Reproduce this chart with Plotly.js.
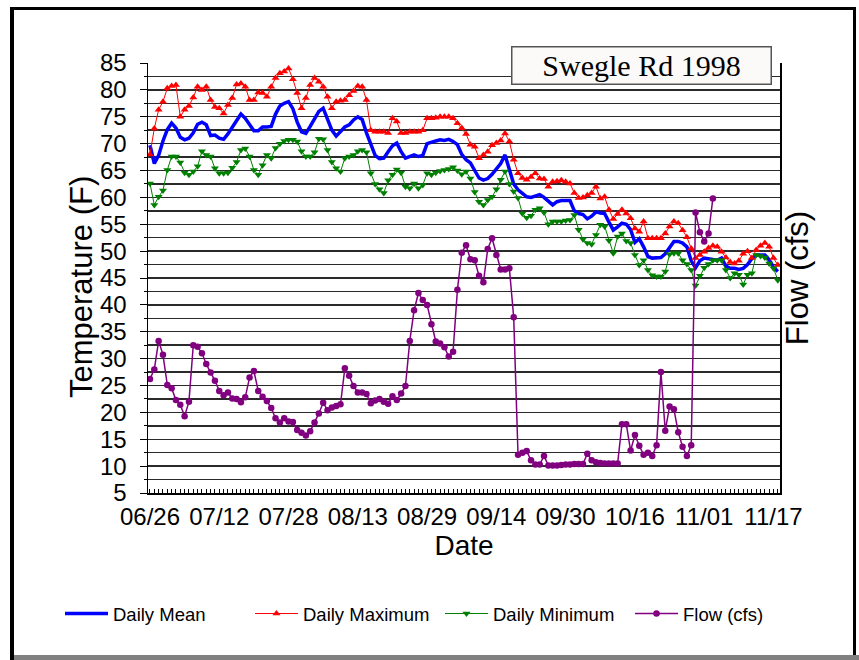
<!DOCTYPE html>
<html><head><meta charset="utf-8">
<script src="https://cdn.plot.ly/plotly-3.0.1.min.js"></script>
<style>html,body{margin:0;padding:0;background:#fff;} #chart{width:859px;height:660px;}</style>
</head><body><div id="chart"></div>
<script>
const startDate = [1998, 5, 26];
const dailyMean = [69.7,66.3,67.8,70.5,72.6,73.8,72.9,71.2,70.7,71.0,
72.0,73.6,74.0,73.5,71.5,71.6,71.0,70.8,71.8,73.0,
74.3,75.5,74.7,73.4,72.4,72.4,73.1,73.1,73.2,75.5,
77.0,77.5,77.8,76.5,74.0,72.2,71.9,73.2,74.7,76.0,
76.6,74.5,72.5,71.4,72.3,73.1,73.5,74.4,75.0,74.5,
72.0,69.8,67.8,67.2,67.3,68.5,69.6,70.1,68.5,67.3,
67.6,67.9,67.6,67.8,70.0,70.3,70.5,70.7,70.6,70.8,
70.4,69.8,68.0,67.0,66.4,65.0,63.6,63.2,63.5,64.3,
65.2,66.3,67.9,65.0,62.5,61.4,60.8,60.1,60.0,60.2,
60.5,60.0,59.2,58.6,59.2,59.4,59.4,59.4,57.5,57.0,
56.8,56.0,56.5,57.3,57.1,57.0,55.4,53.9,54.5,55.2,
55.0,54.0,51.6,52.3,50.8,49.0,48.7,48.7,48.8,49.5,
50.8,51.8,51.8,51.5,50.8,48.2,46.9,48.2,48.7,48.6,
48.4,48.3,48.7,47.2,46.8,46.8,46.6,46.8,47.5,48.6,
49.3,49.3,49.3,48.4,47.0,46.2];
const dailyMax = [68.0,72.8,76.3,77.8,80.3,80.7,80.9,75.0,76.3,77.0,
78.6,80.6,80.0,80.6,78.1,76.8,76.6,75.6,77.2,78.5,
81.0,81.2,80.6,78.1,78.1,79.5,79.4,78.7,80.6,82.2,
83.1,83.4,84.0,82.0,79.4,76.6,78.5,80.9,82.2,81.5,
80.6,78.7,76.6,77.8,78.0,78.1,79.0,79.8,80.7,80.6,
78.1,72.5,72.2,72.2,72.2,72.0,74.7,74.1,72.0,72.0,
72.2,72.2,72.2,72.5,74.7,74.7,74.8,75.0,75.0,75.0,
74.7,73.8,72.9,71.8,69.8,69.4,67.3,67.9,68.5,69.7,
70.1,70.6,71.9,70.4,67.0,64.5,63.6,63.3,63.8,64.5,
63.5,63.4,62.0,62.9,63.0,63.2,62.9,62.6,60.8,59.9,
60.0,60.4,60.8,62.0,59.8,60.1,57.7,56.0,56.9,57.7,
57.0,56.1,54.2,53.6,55.5,52.4,52.4,52.4,52.4,53.3,
54.6,55.5,55.2,53.9,52.6,50.5,48.7,49.3,49.9,50.6,
51.0,50.8,49.9,48.8,48.0,47.7,48.2,49.5,50.0,48.7,
50.2,51.0,51.5,50.8,48.7,47.4];
const dailyMin = [62.6,58.6,60.1,61.3,65.1,67.6,67.6,66.5,64.6,64.2,
64.8,65.8,68.6,67.9,67.6,65.4,64.5,64.5,64.6,65.5,
66.6,68.8,69.1,67.6,65.1,64.2,66.0,67.9,67.3,69.2,
70.0,70.5,70.7,70.7,70.4,68.6,67.6,67.6,68.4,70.9,
70.8,68.8,66.6,65.4,64.8,67.3,67.6,67.9,68.6,68.8,
68.4,64.5,62.5,61.5,60.8,63.2,64.2,65.2,64.6,62.0,
61.7,62.6,61.7,62.3,64.5,64.2,64.6,64.9,65.1,65.3,
65.6,65.0,64.3,64.8,63.5,61.0,59.2,58.6,59.5,60.1,
61.5,63.3,64.8,62.5,61.1,59.9,57.0,56.2,56.6,57.7,
58.0,57.2,55.0,55.5,55.5,55.5,55.7,55.8,56.7,54.0,
52.2,51.5,51.3,53.0,54.9,54.6,52.0,49.6,52.7,53.3,
51.9,51.5,49.3,47.4,48.3,46.5,45.5,45.3,45.3,46.2,
49.4,49.6,49.6,48.3,47.6,46.5,43.6,45.4,46.9,47.6,
48.3,48.3,48.3,46.5,45.0,45.9,45.6,43.8,45.6,45.9,
49.3,49.1,48.8,47.7,46.8,44.6];
const flowCfs = [26.2,28.0,33.3,30.7,25.1,24.5,22.3,21.4,19.3,22.0,
32.5,32.2,31.0,29.0,27.4,25.9,24.0,23.2,23.7,22.6,
22.5,21.9,22.8,26.5,27.7,24.0,22.9,22.1,20.8,18.9,
18.1,18.9,18.3,18.2,16.7,16.2,15.7,16.5,18.1,19.8,
21.8,20.4,20.9,21.2,21.5,28.2,26.8,24.9,23.7,23.7,
23.4,21.7,22.2,22.5,22.0,21.6,23.0,22.3,23.5,24.9,
33.3,39.0,42.2,40.9,40.0,36.4,33.2,32.8,32.1,30.4,
31.3,42.8,49.7,51.1,48.5,48.3,45.4,44.2,50.4,52.4,
49.3,46.6,46.6,46.8,37.7,12.1,12.5,12.8,11.1,10.3,
10.3,11.9,10.1,10.1,10.1,10.2,10.3,10.3,10.4,10.4,
10.4,12.3,11.1,10.7,10.6,10.5,10.5,10.5,10.5,17.8,
17.8,12.9,15.8,13.8,12.1,12.5,11.9,13.9,27.5,16.6,
21.1,20.6,16.3,13.6,11.9,13.9,57.2,53.5,51.8,53.3,
59.8];
const tickDates = ['1998-06-26','1998-07-12','1998-07-28','1998-08-13','1998-08-29','1998-09-14','1998-09-30','1998-10-16','1998-11-01','1998-11-17'];
const tickLabels = ['06/26','07/12','07/28','08/13','08/29','09/14','09/30','10/16','11/01','11/17'];
const seriesNames = ['Daily Mean','Daily Maximum','Daily Minimum','Flow (cfs)'];

function dayList(n){
  const out=[];
  for(let i=0;i<n;i++){
    const d=new Date(Date.UTC(startDate[0],startDate[1],startDate[2]+i));
    out.push(d.toISOString().slice(0,10));
  }
  return out;
}
const dates = dayList(dailyMean.length);
const flowDates = dayList(flowCfs.length);

// layout geometry (pixels)
const L=148, R=780, T=63, B=493, W=859, H=660;
const px2x = p => (p-L)/(R-L);
const py2y = p => (B-p)/(B-T);

const sans = 'Liberation Sans, Arial, sans-serif';
const gridC = '#2a2a2a';

const traces = [
  {x:dates, y:dailyMean, name:seriesNames[0], type:'scatter', mode:'lines',
   line:{color:'#0000ff', width:3.5}},
  {x:dates, y:dailyMax, name:seriesNames[1], type:'scatter', mode:'lines+markers',
   line:{color:'#ff0000', width:1}, marker:{symbol:'triangle-up', size:7, color:'#ff0000'}},
  {x:dates, y:dailyMin, name:seriesNames[2], type:'scatter', mode:'lines+markers',
   line:{color:'#008000', width:1}, marker:{symbol:'triangle-down', size:7, color:'#008000'}},
  {x:flowDates, y:flowCfs, name:seriesNames[3], type:'scatter', mode:'lines+markers', yaxis:'y2',
   line:{color:'#800080', width:1.5}, marker:{symbol:'circle', size:6.5, color:'#800080'}}
];

const shapes = [
  // outer frame
  {type:'rect', xref:'paper', yref:'paper', x0:px2x(10), x1:px2x(14), y0:py2y(660), y1:py2y(7), fillcolor:'#000', line:{width:0}},
  {type:'rect', xref:'paper', yref:'paper', x0:px2x(10), x1:px2x(856), y0:py2y(10), y1:py2y(7), fillcolor:'#000', line:{width:0}},
  {type:'rect', xref:'paper', yref:'paper', x0:px2x(853), x1:px2x(856), y0:py2y(655), y1:py2y(7), fillcolor:'#000', line:{width:0}},
  {type:'rect', xref:'paper', yref:'paper', x0:px2x(14), x1:px2x(859), y0:py2y(660), y1:py2y(655), fillcolor:'#808080', line:{width:0}}
];

const layout = {
  width:W, height:H,
  margin:{l:L, r:W-R, t:T, b:H-B, pad:0},
  paper_bgcolor:'#fff', plot_bgcolor:'#fff',
  showlegend:true,
  font:{family:sans, color:'#000'},
  xaxis:{
    type:'date', range:['1998-06-25 13:00','1998-11-18 12:00'],
    tickmode:'array', tickvals:tickDates, ticktext:tickLabels,
    ticks:'inside', ticklen:4, tickcolor:'#000', tickwidth:1,
    minor:{tickmode:'linear', tick0:'1998-06-26', dtick:86400000, ticks:'inside', ticklen:4, tickcolor:'#000', tickwidth:1, showgrid:false},
    showgrid:false, zeroline:false, showline:true, linecolor:'#000', linewidth:1.5,
    tickfont:{family:sans, size:24, color:'#000'}, ticklabelstandoff:2,
    title:{text:'Date', font:{family:sans, size:28, color:'#000'}, standoff:3}
  },
  yaxis:{
    range:[5,85], tickmode:'linear', tick0:5, dtick:5,
    ticks:'outside', ticklen:7, tickcolor:'#000', tickwidth:1,
    showgrid:true, gridcolor:gridC, gridwidth:1.4,
    minor:{tickmode:'linear', tick0:5, dtick:2.5, ticks:'outside', ticklen:3, tickcolor:'#000', showgrid:true, gridcolor:gridC, gridwidth:1.4},
    zeroline:false, showline:true, linecolor:'#000', linewidth:1.5, mirror:true,
    tickfont:{family:sans, size:24, color:'#000'}, ticklabelstandoff:8
  },
  yaxis2:{
    overlaying:'y', side:'right', range:[5,85], showgrid:false, zeroline:false,
    showticklabels:false, ticks:'', showline:true, linecolor:'#000', linewidth:1.5,
    title:{text:'Flow (cfs)', font:{family:sans, size:31, color:'#000'}, standoff:6}
  },
  legend:{orientation:'h', x:px2x(60), xanchor:'left', y:py2y(614), yanchor:'middle',
    font:{family:sans, size:18.5, color:'#000'}, entrywidth:132, entrywidthmode:'pixels',
    itemwidth:43, bgcolor:'rgba(0,0,0,0)', traceorder:'normal'},
  annotations:[
    {text:'Temperature (F)', xref:'paper', yref:'paper', x:px2x(81), y:py2y(287),
     xanchor:'center', yanchor:'middle', textangle:-90, showarrow:false,
     font:{family:sans, size:31, color:'#000'}},
    {text:'Swegle Rd 1998', xref:'paper', yref:'paper', x:px2x(641), y:py2y(65.5),
     xanchor:'center', yanchor:'middle', showarrow:false,
     font:{family:'Liberation Serif, Times New Roman, serif', size:30, color:'#000'},
     bgcolor:'#fcf9f9', bordercolor:'#555', borderwidth:1.5, borderpad:1, width:256, height:34}
  ],
  shapes:shapes
};

Plotly.newPlot('chart', traces, layout, {displayModeBar:false, staticPlot:true});
</script>
</body></html>
